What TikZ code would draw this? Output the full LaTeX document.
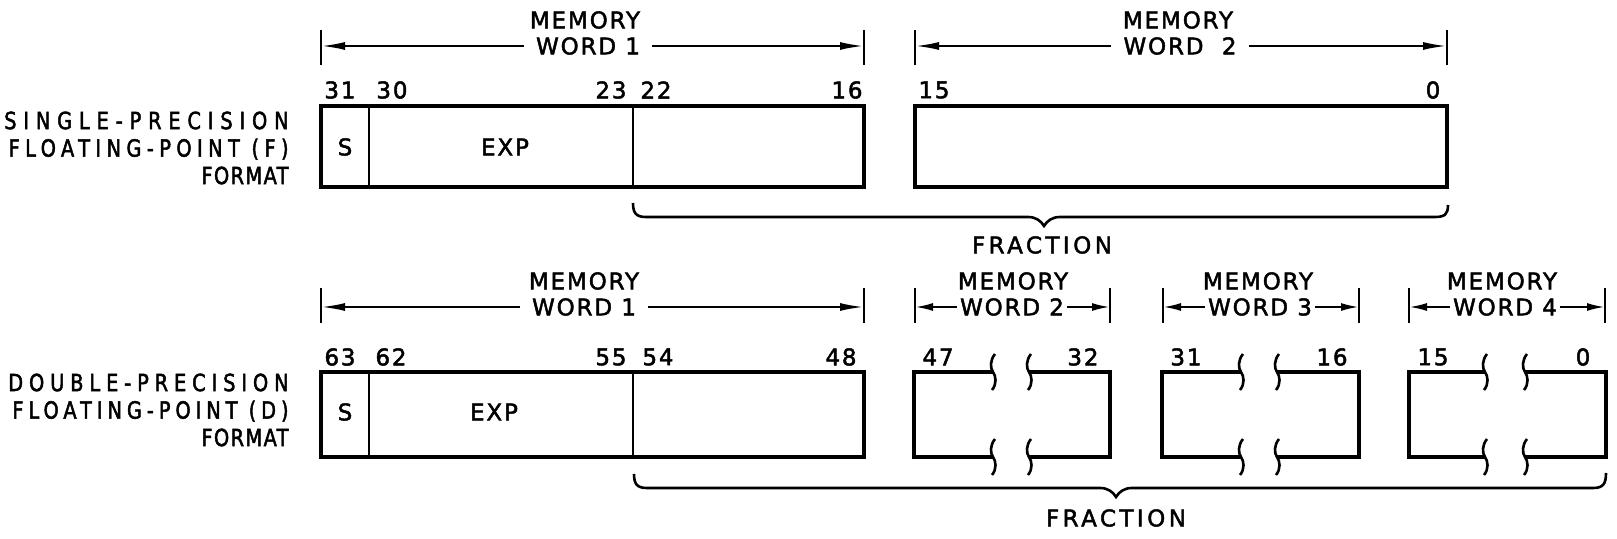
\documentclass[tikz,border=0pt]{standalone}
\usepackage{fontspec}
\setmainfont{DejaVu Sans}[LetterSpace=8,FakeBold=2]
\newfontfamily\labSP{DejaVu Sans}[LetterSpace=29,FakeBold=2,FakeStretch=0.82]
\newfontfamily\labDP{DejaVu Sans}[LetterSpace=25,FakeBold=2,FakeStretch=0.82]
\newfontfamily\labFF{DejaVu Sans}[LetterSpace=23,FakeBold=2,FakeStretch=0.82]
\newfontfamily\labFD{DejaVu Sans}[LetterSpace=21,FakeBold=2,FakeStretch=0.82]
\newfontfamily\labFM{DejaVu Sans}[LetterSpace=6,FakeBold=2,FakeStretch=0.82]
\newfontfamily\widefont{DejaVu Sans}[LetterSpace=15,FakeBold=2]
\usetikzlibrary{arrows.meta}
\begin{document}
\begin{tikzpicture}[x=0.5pt,y=-0.5pt,
  lab/.style={font=\fontsize{11.5}{13.75}\selectfont, inner sep=0pt},
  fmt/.style={font=\fontsize{11.8}{13.75}\selectfont, inner sep=0pt, anchor=east, align=right},
  frac/.style={font=\widefont\fontsize{11.5}{14}\selectfont, inner sep=0pt},
  word/.style={lab, inner xsep=6pt, inner ysep=0pt},
  sword/.style={lab, inner xsep=1.5pt, inner ysep=0pt},
  boxline/.style={line width=1.8pt, line join=miter},
  divline/.style={line width=1.1pt},
  tickline/.style={line width=1pt},
  dim/.style={line width=1.1pt, -{Latex[length=12pt,width=4pt]}},
  sdim/.style={line width=1.1pt, -{Latex[length=9pt,width=4pt]}},
  brk/.style={line width=1.3pt},
  bracepath/.style={line width=1.3pt},
  brkmark/.pic={\draw[brk] (2,-18) .. controls (-3,-12) and (-3,-4) .. (0,0) .. controls (3,4) and (4,12) .. (-1,18);}]
\useasboundingbox (0,0) rectangle (1617,539);

% ---------- single precision ----------
\node[fmt] (fmtF) at (289,148) {{\labSP SINGLE-PRECISION}\\{\labFF FLOATING-POINT (F)}\\{\labFM FORMAT}};

% memory word 1 (top)
\node[lab] (m1a) at (585,20) {MEMORY};
\node[word] (w1a) at (588,46) {WORD 1};
\coordinate (t1aL) at (321,46); \coordinate (t1aR) at (864,46);
\draw[tickline] (321,30) -- (321,65);
\draw[tickline] (864,30) -- (864,65);
\draw[dim] (w1a.west) -- (t1aL);
\draw[dim] (w1a.east) -- (t1aR);

% memory word 2 (top)
\node[lab] (m2a) at (1178,20) {MEMORY};
\node[word] (w2a) at (1180,46) {WORD \ 2};
\coordinate (t2aL) at (915,46); \coordinate (t2aR) at (1447,46);
\draw[tickline] (915,30) -- (915,65);
\draw[tickline] (1447,30) -- (1447,65);
\draw[dim] (w2a.west) -- (t2aL);
\draw[dim] (w2a.east) -- (t2aR);

% bit numbers
\node[lab] (b31) at (340,90) {31};
\node[lab] (b30) at (392,90) {30};
\node[lab] (b23) at (611,90) {23};
\node[lab] (b22) at (656,90) {22};
\node[lab] (b16) at (847,90) {16};
\node[lab] (b15) at (934,90) {15};
\node[lab] (b0)  at (1433,90) {0};

% boxes
\draw[boxline] (321,106) rectangle (864,187);
\draw[divline] (369,106) -- (369,187);
\draw[divline] (633,106) -- (633,187);
\draw[boxline] (915,106) rectangle (1447,187);
\node[lab] (sF) at (345,147) {S};
\node[lab] (eF) at (505,147) {EXP};

% brace
\draw[bracepath] (633,203) .. controls (633,213) and (636,217) .. (646,217) -- (1028,217)
  .. controls (1036,217) and (1041,221) .. (1044,226)
  .. controls (1047,221) and (1052,217) .. (1060,217) -- (1435,217)
  .. controls (1445,217) and (1448,214) .. (1448,205);
\node[frac] (frF) at (1042,245) {FRACTION};

% ---------- double precision ----------
\node[fmt] (fmtD) at (289,410) {{\labDP DOUBLE-PRECISION}\\{\labFD FLOATING-POINT (D)}\\{\labFM FORMAT}};

% memory word 1 (bottom)
\node[lab] (m1b) at (584,281) {MEMORY};
\node[word] (w1b) at (584,307) {WORD 1};
\coordinate (t1bL) at (321,307); \coordinate (t1bR) at (864,307);
\draw[tickline] (321,288) -- (321,323);
\draw[tickline] (864,288) -- (864,323);
\draw[dim] (w1b.west) -- (t1bL);
\draw[dim] (w1b.east) -- (t1bR);

% memory words 2,3,4 (bottom)
\node[lab] (m2b) at (1013,281) {MEMORY};
\node[sword] (w2b) at (1012,307) {WORD 2};
\coordinate (t2bL) at (915,307); \coordinate (t2bR) at (1110,307);
\draw[tickline] (915,288) -- (915,323);
\draw[tickline] (1110,288) -- (1110,323);
\draw[sdim] (w2b.west) -- (t2bL);
\draw[sdim] (w2b.east) -- (t2bR);

\node[lab] (m3b) at (1258,281) {MEMORY};
\node[sword] (w3b) at (1260,307) {WORD 3};
\coordinate (t3bL) at (1163,307); \coordinate (t3bR) at (1359,307);
\draw[tickline] (1163,288) -- (1163,323);
\draw[tickline] (1359,288) -- (1359,323);
\draw[sdim] (w3b.west) -- (t3bL);
\draw[sdim] (w3b.east) -- (t3bR);

\node[lab] (m4b) at (1502,281) {MEMORY};
\node[sword] (w4b) at (1505,307) {WORD 4};
\coordinate (t4bL) at (1409,307); \coordinate (t4bR) at (1605,307);
\draw[tickline] (1409,288) -- (1409,323);
\draw[tickline] (1605,288) -- (1605,323);
\draw[sdim] (w4b.west) -- (t4bL);
\draw[sdim] (w4b.east) -- (t4bR);

% bit numbers
\node[lab] (b63) at (340,357) {63};
\node[lab] (b62) at (391,357) {62};
\node[lab] (b55) at (611,357) {55};
\node[lab] (b54) at (658,357) {54};
\node[lab] (b48) at (841,357) {48};
\node[lab] (b47) at (938,357) {47};
\node[lab] (b32) at (1083,357) {32};
\node[lab] (b31b) at (1186,357) {31};
\node[lab] (b16b) at (1332,357) {16};
\node[lab] (b15b) at (1433,357) {15};
\node[lab] (b0b)  at (1583,357) {0};

% word 1 box
\draw[boxline] (321,372) rectangle (864,457);
\draw[divline] (369,372) -- (369,457);
\draw[divline] (633,372) -- (633,457);
\node[lab] (sD) at (345,412) {S};
\node[lab] (eD) at (494,412) {EXP};

% broken boxes
\foreach \L/\a/\b/\R in {914/993/1029/1110, 1162/1241/1277/1359, 1409/1485/1525/1606} {
  \draw[boxline] (\a,372) -- (\L,372) -- (\L,457) -- (\a,457);
  \draw[boxline] (\b,372) -- (\R,372) -- (\R,457) -- (\b,457);
  \pic at (\a,372) {brkmark};
  \pic at (\a,457) {brkmark};
  \pic at (\b,372) {brkmark};
  \pic at (\b,457) {brkmark};
}

% brace
\draw[bracepath] (634,474) .. controls (634,484) and (637,488) .. (647,488) -- (1100,488)
  .. controls (1108,488) and (1113,492) .. (1116,497)
  .. controls (1119,492) and (1124,488) .. (1132,488) -- (1593,488)
  .. controls (1603,488) and (1606,484) .. (1606,473);
\node[frac] (frD) at (1116,518) {FRACTION};
\end{tikzpicture}
\end{document}
